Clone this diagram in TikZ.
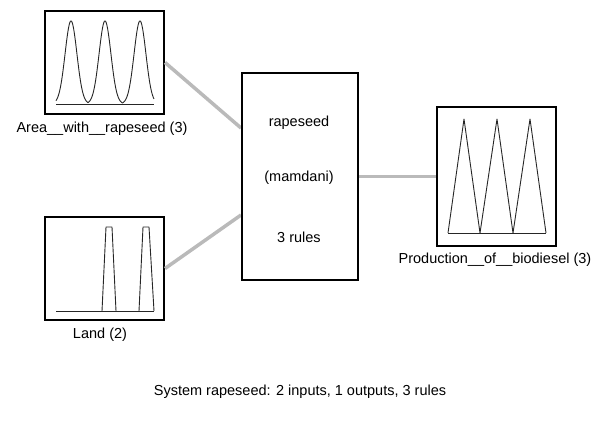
\documentclass[tikz,border=0pt]{standalone}
\usepackage{fontspec}
\setmainfont{Liberation Sans}
\begin{document}
\begin{tikzpicture}[x=1pt,y=-1pt,
  mfbox/.style={draw=black,line width=2pt,inner sep=0pt,minimum width=119pt,minimum height=103pt},
  rulebox/.style={draw=black,line width=1.5pt,inner sep=0pt,minimum width=116pt,minimum height=207pt},
  conn/.style={draw=black!27,line width=3.5pt},
  curve/.style={draw=black!85,line width=0.9pt,line join=round},
  lbl/.style={font=\fontsize{14.5}{16}\selectfont,inner sep=0pt},
  every node/.style={font=\fontsize{14.5}{16}\selectfont}]
\useasboundingbox (0,0) rectangle (591,423);
% boxes
\node[mfbox] (area) at (104.5,62.5) {};
\node[mfbox] (land) at (104.5,268.5) {};
\node[rulebox] (rule) at (300,176.5) {};
\node[mfbox,minimum height=139pt] (out) at (496.5,176.5) {};
% connectors
\coordinate (in1) at (241,128);
\coordinate (in2) at (241,215);
\draw[conn] (area.east) -- (in1);
\draw[conn] (land.east) -- (in2);
\draw[conn] (rule.east) -- (out.west);
\node[rulebox] at (rule) {};
% rule box text
\node[lbl] (t1) at (299,123) {rapeseed};
\node[lbl] (t2) at (299,178) {(mamdani)};
\node[lbl] (t3) at (299,237) {3 rules};
% area curves
\draw[curve] (56,104) -- (154,104);
\draw[curve] plot[domain=56:154,samples=250,smooth] (\x,{104-83*max(exp(-((\x-71)^2)/70),exp(-((\x-105)^2)/70),exp(-((\x-140)^2)/70))});
% land curves
\draw[curve] (56,311) -- (154,311);
\draw[curve] (102,311) -- (106,227) -- (112,227) -- (116,311);
\draw[curve] (139,311) -- (143,227) -- (149,227) -- (154,311);
% output curves
\draw[curve] (448,233) -- (546,233);
\draw[curve] (448,233) -- (464,119) -- (480,233) -- (497,119) -- (513,233) -- (530,119) -- (546,233);
% labels
\node[lbl] (la) at (102,129) {Area\_\_with\_\_rapeseed (3)};
\node[lbl] (ll) at (100,335) {Land (2)};
\node[lbl] (lo) at (495,260) {Production\_\_of\_\_biodiesel (3)};
\node[lbl] (sys) at (300,392) {System rapeseed: 2 inputs, 1 outputs, 3 rules};
\end{tikzpicture}
\end{document}
